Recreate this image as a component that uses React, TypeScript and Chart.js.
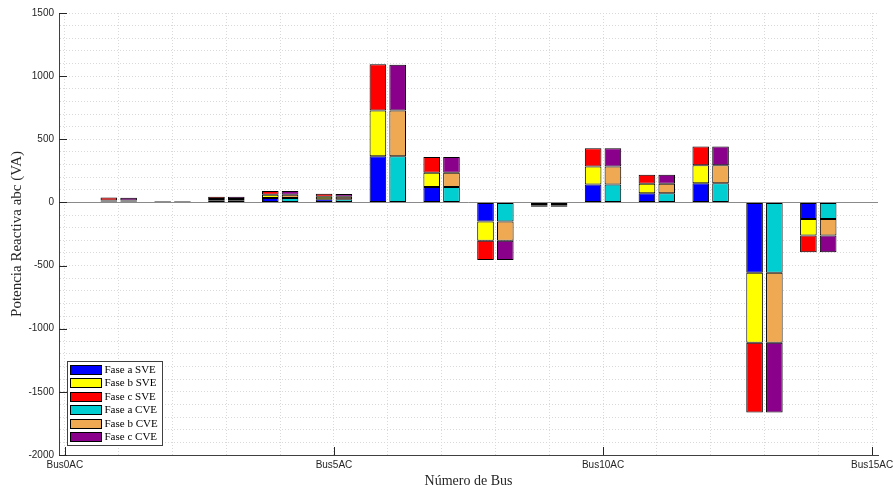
import React, { useEffect, useRef } from "react";
import { Chart, registerables } from "chart.js";

Chart.register(...registerables);

// ---- Data ----
const buses = [1, 2, 3, 4, 5, 6, 7, 8, 9, 10, 11, 12, 13, 14];
const faseA_SVE = [8, 4, 14, 35, 25, 365, 122, -151, -12, 142, 72, 151, -556, -132];
const faseB_SVE = [7, 4, 14, 25, 20, 363, 114, -153, -11, 143, 76, 143, -555, -130];
const faseC_SVE = [25, 4, 17, 30, 23, 367, 124, -151, -12, 145, 72, 148, -553, -132];
const faseA_CVE = [8, 4, 14, 35, 25, 365, 122, -151, -12, 142, 72, 151, -556, -132];
const faseB_CVE = [7, 4, 14, 25, 20, 362, 114, -153, -11, 143, 76, 143, -555, -130];
const faseC_CVE = [23, 4, 17, 30, 22, 363, 124, -151, -12, 145, 72, 148, -553, -132];

const seriesNames = ["Fase a SVE", "Fase b SVE", "Fase c SVE", "Fase a CVE", "Fase b CVE", "Fase c CVE"];
const seriesColors = ["#0000FF", "#FFFF00", "#FF0000", "#00CED1", "#EFA952", "#8B008B"];
const seriesStacks = ["SVE", "SVE", "SVE", "CVE", "CVE", "CVE"];
const seriesValues = [faseA_SVE, faseB_SVE, faseC_SVE, faseA_CVE, faseB_CVE, faseC_CVE];

const xMajorTicks = [0, 5, 10, 15];
const yMajorTicks = [-2000, -1500, -1000, -500, 0, 500, 1000, 1500];
const xLabel = (v: number) => `Bus${v}AC`;

const SANS = '"Liberation Sans", Arial, sans-serif';
const SERIF = '"Liberation Serif", "Times New Roman", serif';

const decorPlugin = {
  id: "decor",
  beforeDatasetsDraw(chart: any) {
    const { ctx, chartArea: a, scales } = chart;
    const y0 = Math.round(scales.y.getPixelForValue(0)) + 0.5;
    ctx.save();
    ctx.strokeStyle = "#8a8a8a";
    ctx.lineWidth = 1;
    ctx.beginPath();
    ctx.moveTo(a.left, y0);
    ctx.lineTo(a.right, y0);
    ctx.stroke();
    ctx.restore();
  },
  afterDraw(chart: any) {
    const { ctx, chartArea: a, scales } = chart;
    const len = 8;
    ctx.save();
    ctx.strokeStyle = "#262626";
    ctx.lineWidth = 1;
    ctx.beginPath();
    for (const v of yMajorTicks) {
      const p = Math.round(scales.y.getPixelForValue(v)) + 0.5;
      ctx.moveTo(a.left, p);
      ctx.lineTo(a.left + len, p);
    }
    for (const v of xMajorTicks) {
      const p = Math.round(scales.x.getPixelForValue(v)) + 0.5;
      ctx.moveTo(p, a.bottom);
      ctx.lineTo(p, a.bottom - len);
    }
    ctx.stroke();

    // legend
    const bx = Math.round(a.left + 8) + 0.5;
    const by = Math.round(a.bottom - 94) + 0.5;
    const bw = 95;
    const bh = 84;
    ctx.fillStyle = "#ffffff";
    ctx.fillRect(bx, by, bw, bh);
    ctx.strokeStyle = "#404040";
    ctx.strokeRect(bx, by, bw, bh);
    ctx.font = `11px ${SERIF}`;
    ctx.textBaseline = "middle";
    ctx.textAlign = "left";
    seriesNames.forEach((name, i) => {
      const sy = by + 3.5 + i * 13.4;
      ctx.fillStyle = seriesColors[i];
      ctx.fillRect(bx + 3, Math.round(sy) + 0.5, 31, 9);
      ctx.strokeStyle = "#000000";
      ctx.strokeRect(bx + 3, Math.round(sy) + 0.5, 31, 9);
      ctx.fillStyle = "#000000";
      ctx.fillText(name, bx + 37, Math.round(sy) + 5.5);
    });
    ctx.restore();
  },
};

export default function App() {
  const ref = useRef<HTMLCanvasElement | null>(null);

  useEffect(() => {
    if (!ref.current) return;
    const datasets = seriesNames.map((name, i) => ({
      label: name,
      data: buses.map((b, j) => ({ x: b, y: seriesValues[i][j] })),
      backgroundColor: seriesColors[i],
      borderColor: "#000000",
      borderWidth: 1,
      borderSkipped: false,
      stack: seriesStacks[i],
      categoryPercentage: 0.735,
      barPercentage: 0.84,
    }));

    const chart = new Chart(ref.current, {
      type: "bar",
      data: { datasets },
      plugins: [decorPlugin],
      options: {
        animation: false,
        responsive: false,
        layout: { padding: { top: 13, right: 15, left: 0, bottom: 0 } },
        plugins: { legend: { display: false }, tooltip: { enabled: false } },
        scales: {
          x: {
            type: "linear",
            min: -0.11,
            max: 15.11,
            offset: false,
            afterFit: (s: any) => {
              s.height = 33;
              s.paddingLeft = 0;
              s.paddingRight = 0;
            },
            ticks: {
              stepSize: 1,
              includeBounds: false,
              autoSkip: false,
              maxRotation: 0,
              minRotation: 0,
              padding: 4,
              color: "#262626",
              font: { family: SANS, size: 10 },
              callback: (v: any) => (xMajorTicks.includes(Number(v)) ? xLabel(Number(v)) : ""),
            },
            grid: { color: "#d9d9d9", lineWidth: 1, drawTicks: false, offset: false },
            border: { display: true, color: "#404040", width: 1, dash: [1, 2] },
            title: {
              display: true,
              text: "Número de Bus",
              color: "#262626",
              font: { family: SERIF, size: 14, lineHeight: 1 },
              padding: { top: 0, bottom: 0 },
            },
          },
          y: {
            type: "linear",
            min: -2000,
            max: 1500,
            stacked: true,
            afterFit: (s: any) => {
              s.width = 59;
              s.paddingTop = 0;
              s.paddingBottom = 0;
            },
            ticks: {
              stepSize: 100,
              autoSkip: false,
              padding: 5,
              color: "#262626",
              font: { family: SANS, size: 10 },
              callback: (v: any) => (yMajorTicks.includes(Number(v)) ? String(v) : ""),
            },
            grid: { color: "#d9d9d9", lineWidth: 1, drawTicks: false },
            border: { display: true, color: "#404040", width: 1, dash: [1, 2] },
            title: {
              display: true,
              text: "Potencia Reactiva abc (VA)",
              color: "#262626",
              font: { family: SERIF, size: 15, lineHeight: 1.2 },
              padding: { top: 8, bottom: 0 },
            },
          },
        },
      },
    } as any);
    return () => chart.destroy();
  }, []);

  return (
    <div style={{ position: "fixed", left: 0, top: 0, width: 893, height: 488, background: "#fff" }}>
      <canvas ref={ref} width={893} height={488} style={{ display: "block", width: 893, height: 488 }} />
    </div>
  );
}
